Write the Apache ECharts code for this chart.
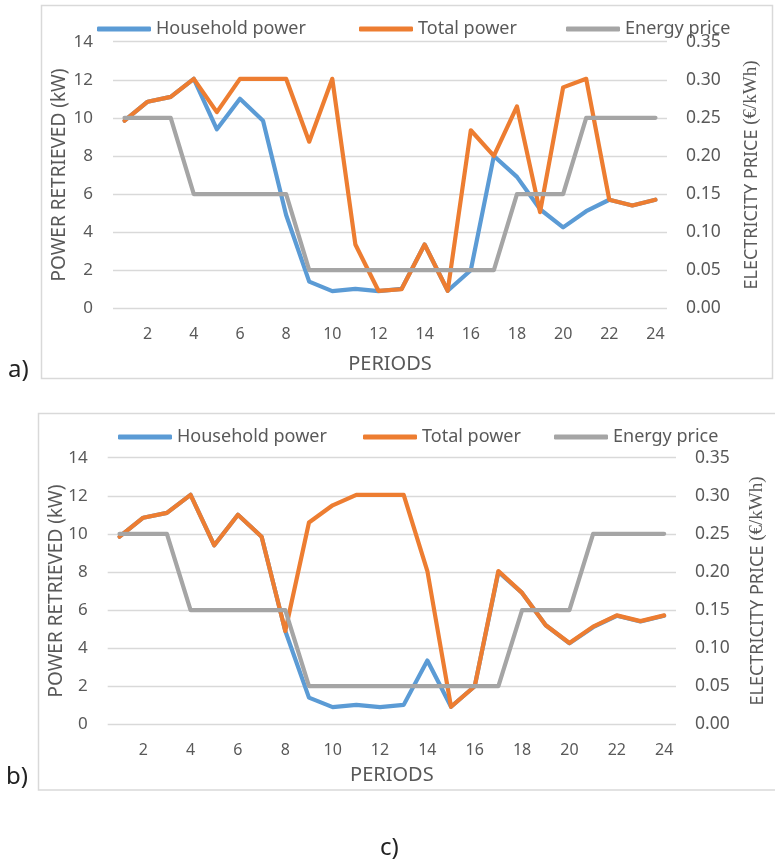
<!DOCTYPE html>
<html>
<head>
<meta charset="utf-8">
<script src="https://cdn.jsdelivr.net/npm/echarts@6/dist/echarts.min.js"></script>
<style>
  html, body { margin: 0; padding: 0; background: #fff; }
  #chart { width: 775px; height: 864px; }
</style>
</head>
<body>
<div id="chart"></div>
<script>
// Periods of the day (1..24)
const periods = ['1','2','3','4','5','6','7','8','9','10','11','12','13','14','15','16','17','18','19','20','21','22','23','24'];

// Household power (kW), same in both scenarios
const householdPower = [9.85, 10.85, 11.1, 12.05, 9.4, 11.0, 9.85, 4.9, 1.4, 0.9, 1.02, 0.9, 1.02, 3.35, 0.92, 2.0, 8.0, 6.9, 5.2, 4.25, 5.1, 5.7, 5.4, 5.7];

// Total power (kW), scenario a)
const totalPowerA = [9.85, 10.85, 11.1, 12.05, 10.3, 12.05, 12.05, 12.05, 8.75, 12.05, 3.35, 0.92, 1.0, 3.35, 0.92, 9.35, 8.0, 10.6, 5.05, 11.6, 12.05, 5.7, 5.4, 5.7];

// Total power (kW), scenario b)
const totalPowerB = [9.85, 10.85, 11.1, 12.05, 9.4, 11.0, 9.85, 4.9, 10.6, 11.5, 12.05, 12.05, 12.05, 8.05, 0.92, 2.0, 8.05, 6.9, 5.2, 4.27, 5.13, 5.72, 5.42, 5.72];

// Electricity price (€/kWh)
const energyPrice = [0.25, 0.25, 0.25, 0.15, 0.15, 0.15, 0.15, 0.15, 0.05, 0.05, 0.05, 0.05, 0.05, 0.05, 0.05, 0.05, 0.05, 0.15, 0.15, 0.15, 0.25, 0.25, 0.25, 0.25];

// Axis scales
const powerTicks = { min: 0, max: 14, interval: 2 };
const priceTicks = { min: 0, max: 0.35, interval: 0.05 };

const TEXT = '#595959';
const FONT = 'Noto Sans';
const COLORS = { household: '#5B9BD5', total: '#ED7D31', price: '#A5A5A5' };

const chart = echarts.init(document.getElementById('chart'), null, { renderer: 'canvas' });

function xAxisFor(gridIndex, nameGap) {
  return {
    type: 'category', gridIndex, data: periods, boundaryGap: true,
    axisLine: { show: false }, axisTick: { show: false },
    axisLabel: { interval: (i) => i % 2 === 1, color: TEXT, fontSize: 16, fontFamily: FONT, margin: 18 },
    name: 'PERIODS', nameLocation: 'middle', nameGap, nameMoveOverlap: false,
    nameTextStyle: { color: TEXT, fontSize: 20, fontFamily: FONT }
  };
}
function powerAxis(gridIndex, nameGap) {
  return {
    type: 'value', gridIndex, position: 'left', ...powerTicks,
    axisLine: { show: false }, axisTick: { show: false },
    axisLabel: { color: TEXT, fontSize: 17, fontFamily: FONT, margin: 20 },
    splitLine: { lineStyle: { color: '#D9D9D9', width: 1.3 } },
    name: 'POWER RETRIEVED (kW)', nameLocation: 'middle', nameGap, nameRotate: 90, nameMoveOverlap: false,
    nameTextStyle: { color: TEXT, fontSize: 19, fontFamily: FONT }
  };
}
function priceAxis(gridIndex, nameGap) {
  return {
    type: 'value', gridIndex, position: 'right', ...priceTicks,
    axisLine: { show: false }, axisTick: { show: false },
    splitLine: { show: false },
    axisLabel: { color: TEXT, fontSize: 17.5, fontFamily: FONT, margin: 19, formatter: (v) => v.toFixed(2) },
    name: 'ELECTRICITY PRICE {s|(€/kWh)}', nameLocation: 'middle', nameGap, nameRotate: 90, nameMoveOverlap: false,
    nameTextStyle: {
      color: TEXT, fontSize: 18, fontFamily: FONT,
      rich: { s: { color: TEXT, fontSize: 19, fontFamily: 'Liberation Serif' } }
    }
  };
}
function lineSeries(name, data, xi, yi, color) {
  return {
    type: 'line', name, data, xAxisIndex: xi, yAxisIndex: yi,
    symbol: 'none', color,
    lineStyle: { width: 4.2, color, cap: 'round', join: 'round' }
  };
}
function legendItem(name, left, top) {
  return {
    data: [name], left, top, icon: 'roundRect', itemWidth: 54, itemHeight: 5, itemGap: 0,
    textStyle: { color: TEXT, fontSize: 18, fontFamily: FONT, padding: [0, 0, 0, 0] },
    selectedMode: false
  };
}

const option = {
  animation: false,
  backgroundColor: '#ffffff',
  grid: [
    { left: 113, top: 41.7, width: 554, height: 266.6 },
    { left: 107.7, top: 457.7, width: 572.3, height: 266.6 }
  ],
  xAxis: [xAxisFor(0, 46), xAxisFor(1, 41)],
  yAxis: [powerAxis(0, 44), priceAxis(0, 75), powerAxis(1, 42), priceAxis(1, 72)],
  legend: [
    legendItem('Household power', 92, 15),
    legendItem('Total power', 354, 15),
    legendItem('Energy price', 561, 15),
    legendItem('Household power', 113, 423),
    legendItem('Total power', 358, 423),
    legendItem('Energy price', 549, 423)
  ],
  series: [
    lineSeries('Household power', householdPower, 0, 0, COLORS.household),
    lineSeries('Total power', totalPowerA, 0, 0, COLORS.total),
    lineSeries('Energy price', energyPrice, 0, 1, COLORS.price),
    lineSeries('Household power', householdPower, 1, 2, COLORS.household),
    lineSeries('Total power', totalPowerB, 1, 2, COLORS.total),
    lineSeries('Energy price', energyPrice, 1, 3, COLORS.price)
  ],
  graphic: [
    { type: 'rect', shape: { x: 41.5, y: 5.5, width: 731, height: 373 }, style: { fill: 'none', stroke: '#D9D9D9', lineWidth: 1.5 }, silent: true },
    { type: 'rect', shape: { x: 38.5, y: 413.5, width: 760, height: 376.5 }, style: { fill: 'none', stroke: '#D9D9D9', lineWidth: 1.5 }, silent: true },
    { type: 'text', left: 8, top: 358, style: { text: 'a)', fill: '#222', font: '24px "Noto Sans"' } },
    { type: 'text', left: 6, top: 765, style: { text: 'b)', fill: '#222', font: '24px "Noto Sans"' } },
    { type: 'text', left: 380, top: 836, style: { text: 'c)', fill: '#222', font: '24px "Noto Sans"' } }
  ]
};

chart.setOption(option);
</script>
</body>
</html>
